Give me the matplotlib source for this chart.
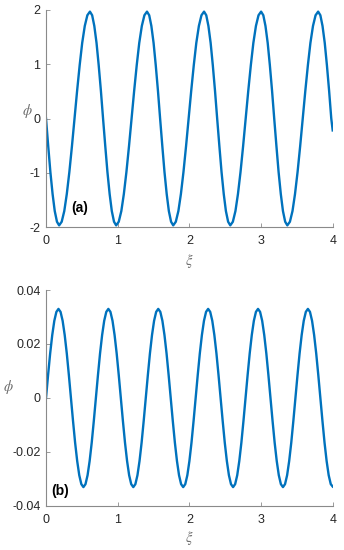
import matplotlib
matplotlib.use("Agg")
import matplotlib.pyplot as plt

# ---------------- data ----------------
xi_a = [0.000, 0.031, 0.061, 0.092, 0.122, 0.153, 0.183,
        0.219, 0.255, 0.290, 0.326, 0.362, 0.398, 0.434, 0.470, 0.505, 0.541, 0.577, 0.613,
        0.644, 0.674, 0.705, 0.735, 0.766, 0.796, 0.827, 0.857, 0.888, 0.918, 0.949, 0.979,
        1.015, 1.051, 1.086, 1.122, 1.158, 1.194, 1.230, 1.266, 1.301, 1.337, 1.373, 1.409,
        1.440, 1.470, 1.501, 1.531, 1.562, 1.592, 1.623, 1.653, 1.684, 1.714, 1.745, 1.775,
        1.811, 1.847, 1.882, 1.918, 1.954, 1.990, 2.026, 2.062, 2.097, 2.133, 2.169, 2.205,
        2.236, 2.266, 2.297, 2.327, 2.358, 2.388, 2.419, 2.449, 2.480, 2.510, 2.541, 2.571,
        2.607, 2.643, 2.678, 2.714, 2.750, 2.786, 2.822, 2.858, 2.893, 2.929, 2.965, 3.001,
        3.032, 3.062, 3.093, 3.123, 3.154, 3.184, 3.215, 3.245, 3.276, 3.306, 3.337, 3.367,
        3.403, 3.439, 3.474, 3.510, 3.546, 3.582, 3.618, 3.654, 3.689, 3.725, 3.761, 3.797,
        3.828, 3.858, 3.889, 3.919, 3.950, 3.980, 4.000]

phi_a = [0.0, -0.510, -0.985, -1.393, -1.706, -1.903, -1.970,
         -1.903, -1.706, -1.393, -0.985, -0.510, 0.0, 0.510, 0.985, 1.393, 1.706, 1.903, 1.970,
         1.903, 1.706, 1.393, 0.985, 0.510, 0.0, -0.510, -0.985, -1.393, -1.706, -1.903, -1.970,
         -1.903, -1.706, -1.393, -0.985, -0.510, 0.0, 0.510, 0.985, 1.393, 1.706, 1.903, 1.970,
         1.903, 1.706, 1.393, 0.985, 0.510, 0.0, -0.510, -0.985, -1.393, -1.706, -1.903, -1.970,
         -1.903, -1.706, -1.393, -0.985, -0.510, 0.0, 0.510, 0.985, 1.393, 1.706, 1.903, 1.970,
         1.903, 1.706, 1.393, 0.985, 0.510, 0.0, -0.510, -0.985, -1.393, -1.706, -1.903, -1.970,
         -1.903, -1.706, -1.393, -0.985, -0.510, 0.0, 0.510, 0.985, 1.393, 1.706, 1.903, 1.970,
         1.903, 1.706, 1.393, 0.985, 0.510, 0.0, -0.510, -0.985, -1.393, -1.706, -1.903, -1.970,
         -1.903, -1.706, -1.393, -0.985, -0.510, 0.0, 0.510, 0.985, 1.393, 1.706, 1.903, 1.970,
         1.903, 1.706, 1.393, 0.985, 0.510, 0.0, -0.220]

xi_b = [0.000, 0.029, 0.058, 0.087, 0.116, 0.145, 0.174, 0.203, 0.232, 0.261, 0.290, 0.319,
        0.348, 0.377, 0.406, 0.435, 0.464, 0.493, 0.522, 0.551, 0.580, 0.609, 0.638, 0.667,
        0.696, 0.725, 0.754, 0.783, 0.812, 0.841, 0.870, 0.899, 0.928, 0.957, 0.986, 1.015,
        1.044, 1.073, 1.102, 1.131, 1.160, 1.189, 1.218, 1.247, 1.276, 1.305, 1.334, 1.363,
        1.392, 1.421, 1.450, 1.479, 1.508, 1.537, 1.566, 1.595, 1.624, 1.653, 1.682, 1.711,
        1.740, 1.769, 1.798, 1.827, 1.856, 1.885, 1.914, 1.943, 1.972, 2.001, 2.030, 2.059,
        2.088, 2.117, 2.146, 2.175, 2.204, 2.233, 2.262, 2.291, 2.320, 2.349, 2.378, 2.407,
        2.436, 2.465, 2.494, 2.523, 2.552, 2.581, 2.610, 2.639, 2.668, 2.697, 2.726, 2.755,
        2.784, 2.813, 2.842, 2.871, 2.900, 2.929, 2.958, 2.987, 3.016, 3.045, 3.074, 3.103,
        3.132, 3.161, 3.190, 3.219, 3.248, 3.277, 3.306, 3.335, 3.364, 3.393, 3.422, 3.451,
        3.480, 3.509, 3.538, 3.567, 3.596, 3.625, 3.654, 3.683, 3.712, 3.741, 3.770, 3.799,
        3.828, 3.857, 3.886, 3.915, 3.944, 3.973, 4.000]

phi_b = [0.0, 0.0085, 0.0165, 0.0233, 0.0286, 0.0319, 0.0330, 0.0319, 0.0286, 0.0233, 0.0165, 0.0085,
         0.0, -0.0085, -0.0165, -0.0233, -0.0286, -0.0319, -0.0330, -0.0319, -0.0286, -0.0233, -0.0165, -0.0085,
         0.0, 0.0085, 0.0165, 0.0233, 0.0286, 0.0319, 0.0330, 0.0319, 0.0286, 0.0233, 0.0165, 0.0085,
         0.0, -0.0085, -0.0165, -0.0233, -0.0286, -0.0319, -0.0330, -0.0319, -0.0286, -0.0233, -0.0165, -0.0085,
         0.0, 0.0085, 0.0165, 0.0233, 0.0286, 0.0319, 0.0330, 0.0319, 0.0286, 0.0233, 0.0165, 0.0085,
         0.0, -0.0085, -0.0165, -0.0233, -0.0286, -0.0319, -0.0330, -0.0319, -0.0286, -0.0233, -0.0165, -0.0085,
         0.0, 0.0085, 0.0165, 0.0233, 0.0286, 0.0319, 0.0330, 0.0319, 0.0286, 0.0233, 0.0165, 0.0085,
         0.0, -0.0085, -0.0165, -0.0233, -0.0286, -0.0319, -0.0330, -0.0319, -0.0286, -0.0233, -0.0165, -0.0085,
         0.0, 0.0085, 0.0165, 0.0233, 0.0286, 0.0319, 0.0330, 0.0319, 0.0286, 0.0233, 0.0165, 0.0085,
         0.0, -0.0085, -0.0165, -0.0233, -0.0286, -0.0319, -0.0330, -0.0319, -0.0286, -0.0233, -0.0165, -0.0085,
         0.0, 0.0085, 0.0165, 0.0233, 0.0286, 0.0319, 0.0330, 0.0319, 0.0286, 0.0233, 0.0165, 0.0085,
         0.0, -0.0085, -0.0165, -0.0233, -0.0286, -0.0319, -0.0328]

x_ticks = [0, 1, 2, 3, 4]
x_ticklabels = ["0", "1", "2", "3", "4"]
ya_ticks = [-2, -1, 0, 1, 2]
ya_ticklabels = ["-2", "-1", "0", "1", "2"]
yb_ticks = [-0.04, -0.02, 0, 0.02, 0.04]
yb_ticklabels = ["-0.04", "-0.02", "0", "0.02", "0.04"]

# ---------------- style ----------------
plt.rcParams["font.family"] = ["Liberation Sans", "DejaVu Sans"]
plt.rcParams["mathtext.fontset"] = "stix"
plt.rcParams["axes.unicode_minus"] = False

LINE = "#0072BD"
TICKC = "#262626"
SPINEC = "#8a8a8a"
LABELC = "#6e6e6e"

fig = plt.figure(figsize=(3.44, 5.50), dpi=100)
ax1 = fig.add_axes([46/344, 1-227/550, 286.7/344, 217/550])
ax2 = fig.add_axes([46/344, 1-506/550, 286.7/344, 216/550])

def style(ax, yticks, yticklabels, ylim, ylab_x, ylab_y, xlab_y):
    ax.set_xlim(0, 4)
    ax.set_ylim(*ylim)
    ax.set_xticks(x_ticks)
    ax.set_xticklabels(x_ticklabels)
    ax.set_yticks(yticks)
    ax.set_yticklabels(yticklabels)
    for s in ["top", "right"]:
        ax.spines[s].set_visible(False)
    for s in ["left", "bottom"]:
        ax.spines[s].set_color(SPINEC)
        ax.spines[s].set_linewidth(0.8)
    ax.tick_params(direction="in", length=3, width=0.6, color=SPINEC,
                   labelsize=9, labelcolor=TICKC)
    ax.tick_params(axis="x", pad=6)
    ax.tick_params(axis="y", pad=4)
    ax.text(ylab_x, ylab_y, r"$\phi$", transform=ax.transAxes, ha="center",
            va="center", fontsize=10.5, color=LABELC)
    ax.text(0.5, xlab_y, r"$\xi$", transform=ax.transAxes, ha="center",
            va="center", fontsize=10.5, color=LABELC)

ax1.plot(xi_a, phi_a, color=LINE, lw=1.7, solid_joinstyle="round")
style(ax1, ya_ticks, ya_ticklabels, (-2, 2), -0.066, 0.536, -0.155)
ax1.text(0.358, -1.65, "(a)", fontsize=10, fontweight="bold", ha="left",
         va="center", color="black")

ax2.plot(xi_b, phi_b, color=LINE, lw=1.7, solid_joinstyle="round")
style(ax2, yb_ticks, yb_ticklabels, (-0.04, 0.04), -0.131, 0.552, -0.146)
ax2.text(0.08, -0.0345, "(b)", fontsize=10, fontweight="bold", ha="left",
         va="center", color="black")

fig.savefig("out.png", dpi=100)
